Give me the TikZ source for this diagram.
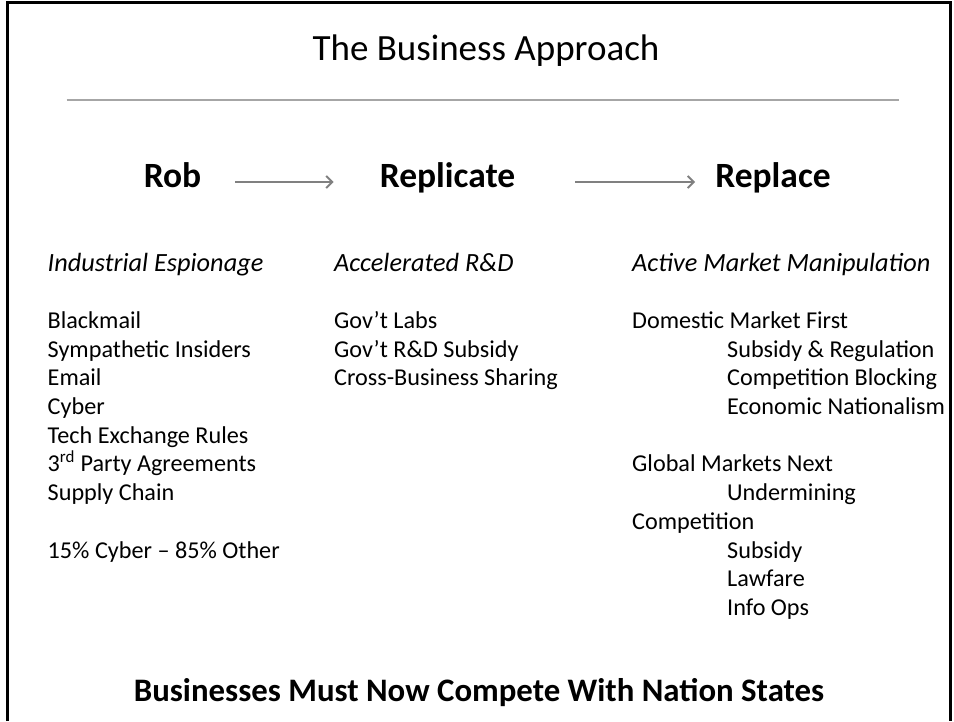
\documentclass[tikz,border=0pt]{standalone}
\usepackage{fontspec}
\setmainfont{Carlito}
\usetikzlibrary{positioning,arrows.meta}

\definecolor{rulegray}{RGB}{166,166,166}
\definecolor{arrowgray}{RGB}{128,128,128}

\tikzstyle{item} = [inner sep=0pt, text width=320pt, align=flush left, text height=17pt, text depth=11.7pt, font=\fontsize{24.2}{29}\selectfont]
\tikzstyle{ihead} = [item, font=\fontsize{26.3}{31}\selectfont\itshape]
\tikzstyle{stage} = [inner sep=0pt, text height=18pt, text depth=8pt, font=\fontsize{35.5}{42}\selectfont\bfseries]
\tikzstyle{arrow} = [line width=2pt, arrowgray, -{Straight Barb[length=6pt,width=12pt]}]

\begin{document}
\begin{tikzpicture}[node distance = 28.7pt, x=1pt, y=1pt]
    \useasboundingbox (0,0) rectangle (954,-721);
    % frame
    \draw [line width=2.5pt] (7.5,-721) -- (7.5,-2.5) -- (950.5,-2.5) -- (950.5,-721);

    % title and rule
    \node (title) [anchor=base, inner sep=0pt, font=\fontsize{37}{44}\selectfont] at (486,-60.7) {The Business Approach};
    \coordinate (rule-l) at (66.7,-100);
    \coordinate (rule-r) at (899,-100);
    \draw [line width=1.8pt, rulegray] (rule-l) -- (rule-r);

    % stages
    \node (rob) [stage, anchor=base] at (172.5,-187) {Rob};
    \node (replicate) [stage, anchor=base] at (447.5,-187) {Replicate};
    \node (replace) [stage, anchor=base] at (773,-187) {Replace};
    \draw [arrow, shorten <=34pt, shorten >=46pt] (rob) -- (replicate);
    \draw [arrow, shorten <=60pt, shorten >=20pt] (replicate) -- (replace);

    % rob column
    \node (espionage) [ihead, anchor=base west] at (47.5,-271) {Industrial Espionage};
    \node (blackmail) [item, below of = espionage, node distance = 57.4pt] {Blackmail};
    \node (insiders) [item, below of = blackmail] {Sympathetic Insiders};
    \node (email) [item, below of = insiders] {Email};
    \node (cyber) [item, below of = email] {Cyber};
    \node (techrules) [item, below of = cyber] {Tech Exchange Rules};
    \node (thirdparty) [item, below of = techrules] {3\textsuperscript{rd} Party Agreements};
    \node (supply) [item, below of = thirdparty] {Supply Chain};
    \node (split) [item, below of = supply, node distance = 57.4pt] {15\% Cyber – 85\% Other};

    % replicate column
    \node (research) [ihead, anchor=base west] at (334,-271) {Accelerated R\&D};
    \node (labs) [item, below of = research, node distance = 57.4pt] {Gov’t Labs};
    \node (rdsubsidy) [item, below of = labs] {Gov’t R\&D Subsidy};
    \node (sharing) [item, below of = rdsubsidy] {Cross-Business Sharing};

    % replace column
    \node (market) [ihead, anchor=base west] at (632,-271) {Active Market Manipulation};
    \node (domestic) [item, below of = market, node distance = 57.4pt] {Domestic Market First};
    \node (regulation) [item, below of = domestic, xshift = 95pt] {Subsidy \& Regulation};
    \node (blocking) [item, below of = regulation] {Competition Blocking};
    \node (nationalism) [item, below of = blocking] {Economic Nationalism};
    \node (global) [item, below of = nationalism, node distance = 57.4pt, xshift = -95pt] {Global Markets Next};
    \node (undermining) [item, below of = global, xshift = 95pt] {Undermining};
    \node (competition) [item, below of = undermining, xshift = -95pt] {Competition};
    \node (subsidy) [item, below of = competition, xshift = 95pt] {Subsidy};
    \node (lawfare) [item, below of = subsidy] {Lawfare};
    \node (infoops) [item, below of = lawfare] {Info Ops};

    % bottom line
    \node (summary) [anchor=base, inner sep=0pt, font=\fontsize{32.8}{39}\selectfont\bfseries] at (479,-701.5) {Businesses Must Now Compete With Nation States};
\end{tikzpicture}
\end{document}
